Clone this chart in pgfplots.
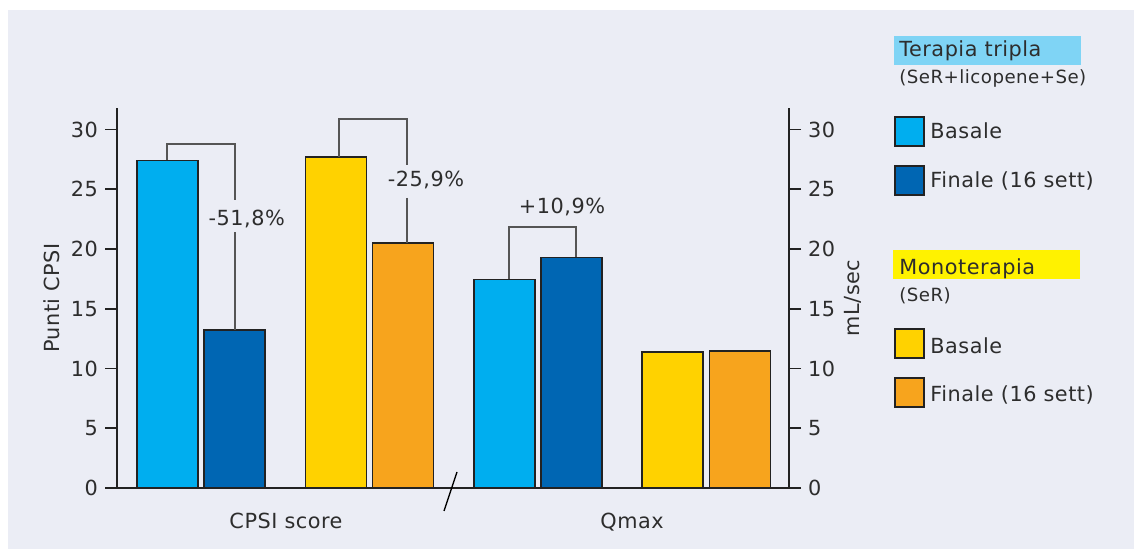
\documentclass[border=0pt]{standalone}
\usepackage{fontspec}
\setmainfont{DejaVu Sans}[LetterSpace=2.5]
\usepackage{pgfplots}
\pgfplotsset{compat=1.18}
\definecolor{bgcol}{HTML}{EBEDF5}
\definecolor{txtcol}{HTML}{2D2D2D}
\definecolor{axcol}{HTML}{222222}
\definecolor{brcol}{HTML}{555555}
\definecolor{cLB}{HTML}{00AEEF}
\definecolor{cDB}{HTML}{0066B3}
\definecolor{cYE}{HTML}{FFD200}
\definecolor{cOR}{HTML}{F7A41D}
\definecolor{hBlue}{HTML}{7FD4F5}
\definecolor{hYel}{HTML}{FFF200}
\newcommand{\mainfs}{\fontsize{10.4}{12.5}\selectfont}
\newcommand{\subfs}{\fontsize{9.1}{11}\selectfont}
\begin{document}
\begin{tikzpicture}
\begin{scope}[x=0.5pt,y=-0.5pt]
  \useasboundingbox (0,0) rectangle (1134,549);
  \fill[bgcol] (8,10) rectangle (1134,549);
\end{scope}
\begin{axis}[
  at={(58.5pt,-244pt)}, anchor=south west,
  scale only axis, width=336pt, height=190pt,
  xmin=117, xmax=789, ymin=0, ymax=31.8,
  axis x line*=bottom, axis y line*=left,
  axis line style={draw=axcol, line width=0.9pt},
  ytick={0,5,...,30},
  xtick={286,632}, xticklabels={CPSI score, Qmax},
  tick align=outside,
  major tick length=6pt,
  x tick style={draw=none},
  y tick style={draw=axcol, line width=0.8pt},
  tick label style={font=\mainfs, text=txtcol},
  /pgf/number format/assume math mode=true,
  xticklabel style={yshift=-3pt},
  ylabel={Punti CPSI},
  ylabel style={at={(axis description cs:-0.0967,0.5)}, anchor=center, font=\mainfs, text=txtcol},
  clip=false,
]
\addplot[ybar, bar width=61, bar shift=0, fill=cLB, draw=axcol, line width=0.8pt] coordinates {(167.5,27.42) (504.2,17.45)};
\addplot[ybar, bar width=61, bar shift=0, fill=cDB, draw=axcol, line width=0.8pt] coordinates {(234.5,13.2) (571.7,19.29)};
\addplot[ybar, bar width=61, bar shift=0, fill=cYE, draw=axcol, line width=0.8pt] coordinates {(336,27.70) (672.5,11.40)};
\addplot[ybar, bar width=61, bar shift=0, fill=cOR, draw=axcol, line width=0.8pt] coordinates {(403,20.51) (740,11.48)};
% brackets
\draw[brcol, line width=0.8pt] (axis cs:167,27.42) |- (axis cs:235,28.79) -- (axis cs:235,24.08);
\draw[brcol, line width=0.8pt] (axis cs:235,21.40) -- (axis cs:235,13.2);
\node[font=\mainfs, text=txtcol] at (axis cs:246.7,22.55) {-51,8\%};
\draw[brcol, line width=0.8pt] (axis cs:339,27.70) |- (axis cs:407,30.88) -- (axis cs:407,27.0);
\draw[brcol, line width=0.8pt] (axis cs:407,24.27) -- (axis cs:407,20.51);
\node[font=\mainfs, text=txtcol] at (axis cs:426,25.75) {-25,9\%};
\draw[brcol, line width=0.8pt] (axis cs:509,17.45) |- (axis cs:576,21.85) -- (axis cs:576,19.29);
\node[font=\mainfs, text=txtcol] at (axis cs:562,23.52) {+10,9\%};
\end{axis}
\begin{axis}[
  at={(58.5pt,-244pt)}, anchor=south west,
  scale only axis, width=336pt, height=190pt,
  xmin=117, xmax=789, ymin=0, ymax=31.8,
  axis x line=none, axis y line*=right,
  axis line style={draw=axcol, line width=0.9pt},
  ytick={0,5,...,30},
  tick align=outside,
  major tick length=6pt,
  y tick style={draw=axcol, line width=0.8pt},
  tick label style={font=\mainfs, text=txtcol},
  /pgf/number format/assume math mode=true,
  ylabel={mL/sec},
  ylabel style={at={(axis description cs:1.0952,0.5)}, anchor=center, rotate=0, font=\mainfs, text=txtcol},
]
\addplot[draw=none] coordinates {(117,0)};
\end{axis}
\begin{scope}[x=0.5pt,y=-0.5pt]
  \draw[black, line width=0.7pt] (444,511) -- (457,472);
  % legend: tripla
  \fill[hBlue] (894,36) rectangle (1081,65);
  \node[anchor=base west, inner sep=0, font=\mainfs, text=txtcol] at (899,56.7) {Terapia tripla};
  \node[anchor=base west, inner sep=0, font=\subfs, text=txtcol] at (899,84) {(SeR+licopene+Se)};
  \filldraw[fill=cLB, draw=axcol, line width=0.8pt] (895,117) rectangle (924,146);
  \node[anchor=base west, inner sep=0, font=\mainfs, text=txtcol] at (930,138.3) {Basale};
  \filldraw[fill=cDB, draw=axcol, line width=0.8pt] (895,166) rectangle (924,195);
  \node[anchor=base west, inner sep=0, font=\mainfs, text=txtcol] at (930,187.3) {Finale (16 sett)};
  % legend: mono
  \fill[hYel] (893,250) rectangle (1080,279);
  \node[anchor=base west, inner sep=0, font=\mainfs, text=txtcol] at (899,274.3) {Monoterapia};
  \node[anchor=base west, inner sep=0, font=\subfs, text=txtcol] at (899,301.7) {(SeR)};
  \filldraw[fill=cYE, draw=axcol, line width=0.8pt] (895,329) rectangle (924,358);
  \node[anchor=base west, inner sep=0, font=\mainfs, text=txtcol] at (930,353.3) {Basale};
  \filldraw[fill=cOR, draw=axcol, line width=0.8pt] (895,378) rectangle (924,407);
  \node[anchor=base west, inner sep=0, font=\mainfs, text=txtcol] at (930,401.7) {Finale (16 sett)};
\end{scope}
\end{tikzpicture}
\end{document}
